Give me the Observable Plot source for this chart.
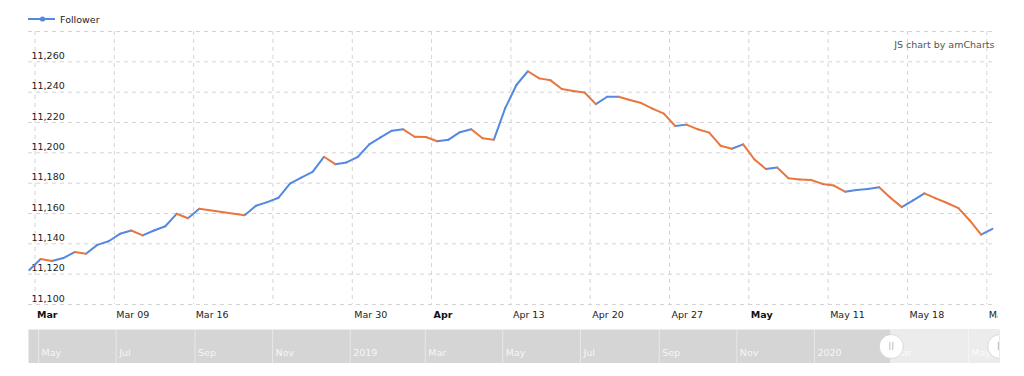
<!DOCTYPE html>
<html><head><meta charset="utf-8">
<script src="https://cdn.jsdelivr.net/npm/d3@7"></script>
<script src="https://cdn.jsdelivr.net/npm/@observablehq/plot@0.6"></script>
<style>
html,body{margin:0;padding:0;background:#fff;}
#wrap{position:relative;width:1024px;height:376px;overflow:hidden;font-family:"DejaVu Sans",sans-serif;}
#legend{position:absolute;left:28px;top:12px;height:14px;display:flex;align-items:center;font-size:9.5px;color:#222;z-index:2;}
#main{position:absolute;left:0;top:0;}
#scroll{position:absolute;left:0;top:329px;}
</style></head><body>
<div id="wrap">
<div id="main"></div>
<div id="scroll"></div>
<div id="legend"><svg width="28" height="14"><line x1="0" y1="7" x2="27" y2="7" stroke="#5588e0" stroke-width="2"/><circle cx="14.5" cy="7" r="2.6" fill="#5588e0"/></svg><span style="margin-left:4px">Follower</span></div>
</div>
<script>
const dates = [
 "2020-03-01","2020-03-02","2020-03-03","2020-03-04","2020-03-05","2020-03-06","2020-03-07","2020-03-08",
 "2020-03-09","2020-03-10","2020-03-11","2020-03-12","2020-03-13","2020-03-14","2020-03-15","2020-03-16",
 "2020-03-20","2020-03-21","2020-03-22","2020-03-23","2020-03-24","2020-03-25","2020-03-26","2020-03-27",
 "2020-03-28","2020-03-29","2020-03-30","2020-03-31","2020-04-01","2020-04-02","2020-04-03","2020-04-04",
 "2020-04-05","2020-04-06","2020-04-07","2020-04-08","2020-04-09","2020-04-10","2020-04-11","2020-04-12",
 "2020-04-13","2020-04-14","2020-04-15","2020-04-16","2020-04-17","2020-04-18","2020-04-19","2020-04-20",
 "2020-04-21","2020-04-22","2020-04-23","2020-04-24","2020-04-25","2020-04-26","2020-04-27","2020-04-28",
 "2020-04-29","2020-04-30","2020-05-01","2020-05-02","2020-05-03","2020-05-04","2020-05-05","2020-05-06",
 "2020-05-07","2020-05-08","2020-05-09","2020-05-10","2020-05-11","2020-05-12","2020-05-13","2020-05-14",
 "2020-05-15","2020-05-16","2020-05-17","2020-05-18","2020-05-19","2020-05-20","2020-05-21","2020-05-22",
 "2020-05-23","2020-05-24","2020-05-25"
];
const followers = [
 11122.7,11130.0,11128.7,11130.6,11134.6,11133.5,11139.3,11141.7,
 11146.6,11148.8,11145.6,11148.8,11151.6,11159.8,11156.9,11163.1,
 11158.9,11165.1,11167.5,11170.4,11179.7,11183.7,11187.4,11197.4,
 11192.5,11193.7,11197.4,11205.6,11210.2,11214.6,11215.5,11210.6,
 11210.4,11207.6,11208.7,11213.6,11215.5,11209.6,11208.7,11229.5,
 11244.9,11253.8,11249.1,11247.8,11242.1,11240.7,11239.8,11232.1,
 11237.0,11237.0,11234.8,11232.8,11229.2,11225.9,11217.7,11218.6,
 11215.5,11213.3,11204.7,11202.7,11205.6,11195.6,11189.4,11190.3,
 11183.2,11182.4,11182.1,11179.5,11178.4,11174.4,11175.5,11176.2,
 11177.3,11170.4,11164.2,11168.7,11173.3,11170.0,11166.9,11163.5,
 11155.4,11146.1,11149.9
];
const yGrid = [11100,11120,11140,11160,11180,11200,11220,11240,11260,11280];
const yLabelTicks = [11100,11120,11140,11160,11180,11200,11220,11240,11260];
const weekTicks = ["2020-03-02","2020-03-09","2020-03-16","2020-03-23","2020-03-30","2020-04-06","2020-04-13",
 "2020-04-20","2020-04-27","2020-05-04","2020-05-11","2020-05-18","2020-05-25"];
const weekLabels = ["Mar","Mar 09","Mar 16","","Mar 30","Apr","Apr 13","Apr 20","Apr 27","May","May 11","May 18","May 25"];
const boldLabels = ["Mar","Apr","May"];
const overviewTicks = ["2018-05-01","2018-07-01","2018-09-01","2018-11-01","2019-01-01","2019-03-01","2019-05-01",
 "2019-07-01","2019-09-01","2019-11-01","2020-01-01","2020-03-01","2020-05-01"];
const overviewLabels = ["May","Jul","Sep","Nov","2019","Mar","May","Jul","Sep","Nov","2020","Mar","May"];

const BLUE = "#5588e0", ORANGE = "#e8763f";
const parse = d3.utcParse("%Y-%m-%d");
const noon = s => new Date(+parse(s) + 12 * 3600e3);
const data = dates.map((d, i) => ({date: noon(d), value: followers[i]}));
const segs = data.slice(1).map((d, i) => ({x1: data[i].date, y1: data[i].value, x2: d.date, y2: d.value, down: d.value < data[i].value}));
const weeks = weekTicks.map((d, i) => ({date: parse(d), label: weekLabels[i], bold: boldLabels.includes(weekLabels[i])}));
const viewStart = new Date(Date.UTC(2020, 2, 1, 10, 13));
const viewEnd = new Date(Date.UTC(2020, 4, 25, 18, 30));
const font = {fontFamily: "'DejaVu Sans', sans-serif", fontSize: "9.5px", overflow: "hidden", background: "transparent"};
const gridStyle = {stroke: "#d4d4d4", strokeDasharray: "4,4", strokeWidth: 1};

const main = Plot.plot({
  width: 998, height: 326, marginTop: 31, marginBottom: 22, marginLeft: 28, marginRight: 3,
  style: font,
  x: {type: "utc", domain: [viewStart, viewEnd], axis: null},
  y: {domain: [11100, 11280], axis: null},
  marks: [
    Plot.ruleY(yGrid, {y: d => d, ...gridStyle}),
    Plot.ruleX(weeks, {x: "date", ...gridStyle}),
    Plot.text(yLabelTicks, {y: d => d, text: d => d3.format(",")(d), frameAnchor: "left", textAnchor: "start", dx: 3, dy: -6, fill: "#222"}),
    Plot.text(weeks.filter(d => !d.bold), {x: "date", text: "label", frameAnchor: "bottom", textAnchor: "start", dx: 2, dy: 13, fill: "#222"}),
    Plot.text(weeks.filter(d => d.bold), {x: "date", text: "label", frameAnchor: "bottom", textAnchor: "start", dx: 2, dy: 13, fill: "#111", fontWeight: "bold"}),
    Plot.text(["JS chart by amCharts"], {text: d => d, frameAnchor: "top-right", textAnchor: "end", dx: -1, dy: 10, fill: "#555"}),
    Plot.link(segs.filter(d => !d.down), {x1: "x1", y1: "y1", x2: "x2", y2: "y2", stroke: BLUE, strokeWidth: 2, strokeLinecap: "round", clip: true}),
    Plot.link(segs.filter(d => d.down), {x1: "x1", y1: "y1", x2: "x2", y2: "y2", stroke: ORANGE, strokeWidth: 2, strokeLinecap: "round", clip: true})
  ]
});
document.getElementById("main").appendChild(main);

const months = overviewTicks.map((d, i) => ({date: parse(d), label: overviewLabels[i]}));
const handles = [viewStart, viewEnd];
const scroll = Plot.plot({
  width: 1024, height: 34, marginTop: 0, marginBottom: 0, marginLeft: 28, marginRight: 25,
  style: font,
  x: {type: "utc", domain: [new Date(Date.UTC(2018, 3, 23, 2)), new Date(Date.UTC(2020, 4, 25, 12))], axis: null},
  y: {domain: [0, 1], axis: null},
  marks: [
    Plot.frame({fill: "#d5d5d5", stroke: "none"}),
    Plot.rect([{a: viewStart, b: viewEnd}], {x1: "a", x2: "b", y1: 0, y2: 1, fill: "#ececec", clip: true}),
    Plot.ruleX(months, {x: "date", stroke: "#fff", strokeOpacity: 0.45}),
    Plot.text(months, {x: "date", text: "label", frameAnchor: "bottom", textAnchor: "start", dx: 3, dy: -8, fill: "#fff", fillOpacity: 0.8}),
    Plot.dot(handles, {x: d => d, y: 0.5, r: 12, fill: "#fff", stroke: "#c8c8c8", strokeWidth: 0.6, clip: true}),
    Plot.ruleX(handles, {x: d => d, y1: 0.38, y2: 0.62, dx: -1.5, stroke: "#aaa", strokeWidth: 0.8, clip: true}),
    Plot.ruleX(handles, {x: d => d, y1: 0.38, y2: 0.62, dx: 1.5, stroke: "#aaa", strokeWidth: 0.8, clip: true})
  ]
});
document.getElementById("scroll").appendChild(scroll);
</script>
</body></html>
